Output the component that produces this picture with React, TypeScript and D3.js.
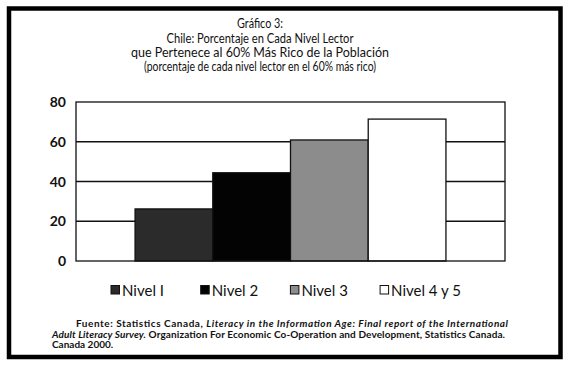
import * as d3 from 'd3';

const categories = ['Nivel 1', 'Nivel 2', 'Nivel 3', 'Nivel 4 y 5'];
const legendLabels = ['Nivel I', 'Nivel 2', 'Nivel 3', 'Nivel 4 y 5'];
const values = [26.2, 44.4, 60.9, 71.4];
const fills = ['#2b2b2b', '#030303', '#8c8c8c', '#ffffff'];
const yTicks = [0, 20, 40, 60, 80];

const titleLines = [
  'Gráfico 3:',
  'Chile: Porcentaje en Cada Nivel Lector',
  'que Pertenece al 60% Más Rico de la Población',
  '(porcentaje de cada nivel lector en el 60% más rico)',
];

const W = 569;
const H = 366;
const font = 'Lato, "Open Sans", sans-serif';

export default function App() {
  const x = d3.scaleBand<string>()
    .domain(categories)
    .range([76, 505])
    .paddingInner(0)
    .paddingOuter(0.76);

  const y = d3.scaleLinear().domain([0, 80]).range([261, 102]);

  const titleWidths = [46, 187, 258, 232];
  const titleBase = [28, 43, 57, 71];

  return (
    <div style={{ position: 'absolute', left: 0, top: 0, width: W, height: H, background: '#fff' }}>
      <svg width={W} height={H} style={{ display: 'block' }}>
        <rect x={0} y={0} width={W} height={H} fill="#fff" />
        <rect x={9} y={8.5} width={551.5} height={348.5} fill="none" stroke="#000" strokeWidth={4.5} />

        {titleLines.map((t, i) => (
          <text
            key={i}
            x={260}
            y={titleBase[i]}
            textAnchor="middle"
            fontFamily={font}
            fontSize={12.5}
            fill="#111"
            textLength={titleWidths[i]}
            lengthAdjust="spacingAndGlyphs"
          >
            {t}
          </text>
        ))}

        {/* gridlines */}
        {yTicks.slice(1, -1).map((t) => (
          <line key={t} x1={76} x2={505} y1={y(t)} y2={y(t)} stroke="#111" strokeWidth={1.3} />
        ))}

        {/* bars */}
        {categories.map((c, i) => (
          <rect
            key={c}
            x={x(c)!}
            y={y(values[i])}
            width={x.bandwidth()}
            height={y(0) - y(values[i])}
            fill={fills[i]}
            stroke="#111"
            strokeWidth={1.3}
          />
        ))}

        {/* plot frame */}
        <rect x={76} y={y(80)} width={429} height={y(0) - y(80)} fill="none" stroke="#111" strokeWidth={1.3} />

        {yTicks.map((t) => (
          <text
            key={t}
            x={66}
            y={y(t)}
            dy="0.36em"
            textAnchor="end"
            fontFamily={font}
            fontWeight="bold"
            fontSize={14}
            fill="#111"
          >
            {t}
          </text>
        ))}

        {/* legend */}
        {legendLabels.map((l, i) => {
          const lx = 111 + i * 89.7;
          return (
            <g key={l}>
              <rect x={lx} y={285.5} width={8.5} height={8.5} fill={fills[i]} stroke="#111" strokeWidth={1} />
              <text x={lx + 11} y={296} fontFamily={font} fontSize={15} fill="#111">
                {l}
              </text>
            </g>
          );
        })}

        {/* source note */}
        <text x={76} y={327} fontFamily={font} fontSize={10} fontWeight="bold" fill="#111" textLength={432} lengthAdjust="spacing">
          <tspan>Fuente: Statistics Canada, </tspan>
          <tspan fontStyle="italic">Literacy  in the Information Age: Final report of the International</tspan>
        </text>
        <text x={52} y={337.5} fontFamily={font} fontSize={10} fontWeight="bold" fill="#111" textLength={453} lengthAdjust="spacing">
          <tspan fontStyle="italic">Adult Literacy Survey.</tspan>
          <tspan> Organization For Economic Co-Operation and Development, Statistics Canada.</tspan>
        </text>
        <text x={52} y={348} fontFamily={font} fontSize={10} fontWeight="bold" fill="#111">
          Canada 2000.
        </text>
      </svg>
    </div>
  );
}
